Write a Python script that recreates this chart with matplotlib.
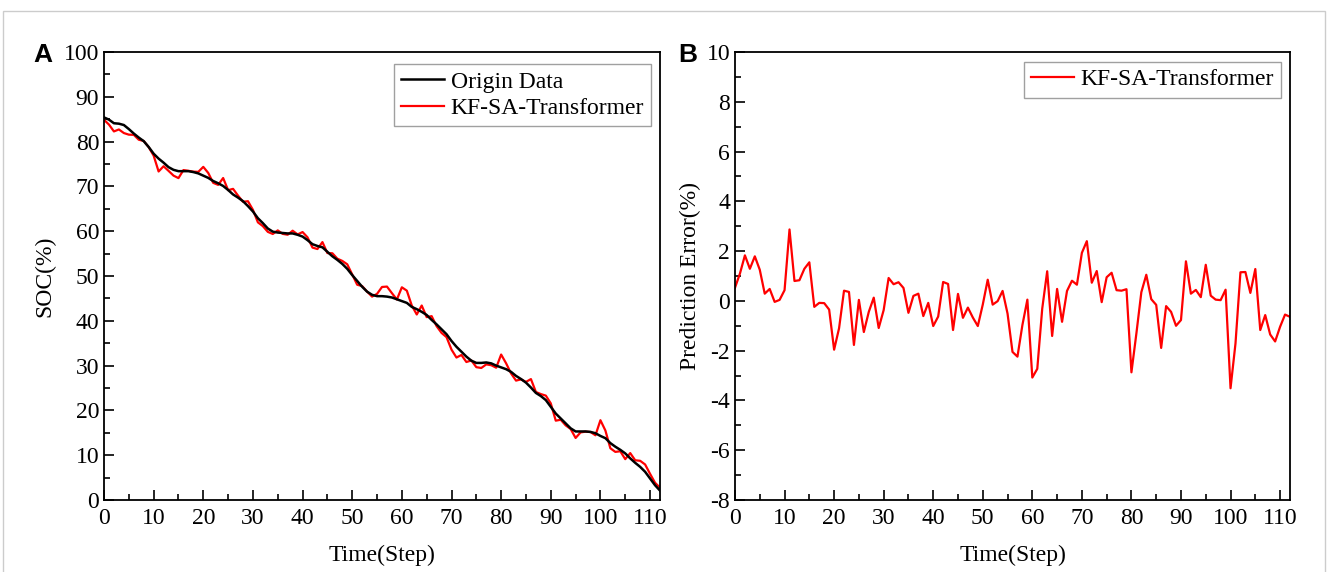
import matplotlib
matplotlib.use("Agg")
from matplotlib import pyplot as plt
from matplotlib.ticker import MultipleLocator
from matplotlib.patches import Rectangle
import numpy as np

# SOC (black curve), steps 0..112
origin = [85.4, 84.9, 84.1, 84.0, 83.7, 82.8, 81.8, 80.9, 80.1, 78.8,
          77.3, 76.2, 75.3, 74.3, 73.7, 73.4, 73.4, 73.4, 73.2, 72.9,
          72.4, 71.9, 71.2, 70.7, 70.1, 69.2, 68.2, 67.5, 66.7, 65.6,
          64.4, 62.9, 61.8, 60.6, 59.9, 59.7, 59.6, 59.5, 59.5, 59.2,
          58.8, 58.0, 57.1, 56.7, 56.4, 55.4, 54.4, 53.6, 52.7, 51.6,
          50.2, 48.9, 47.6, 46.5, 45.8, 45.5, 45.5, 45.4, 45.2, 44.8,
          44.4, 44.0, 43.1, 42.6, 42.0, 41.3, 40.2, 39.2, 38.1, 37.0,
          35.5, 34.2, 33.1, 32.0, 31.1, 30.6, 30.6, 30.7, 30.5, 30.0,
          29.6, 29.2, 28.6, 27.7, 27.0, 26.2, 25.1, 23.9, 23.2, 22.3,
          20.8, 19.3, 18.2, 17.1, 16.0, 15.3, 15.3, 15.3, 15.2, 14.9,
          14.3, 13.8, 12.7, 11.9, 11.2, 10.4, 9.3, 8.3, 7.4, 6.3,
          4.8, 3.3, 2.1]

# prediction error (origin - prediction)
error = [0.53, 1.1, 1.83, 1.29, 1.79, 1.25, 0.29, 0.48, -0.04, 0.04,
         0.43, 2.87, 0.8, 0.83, 1.29, 1.55, -0.24, -0.08, -0.09, -0.35,
         -1.96, -1.1, 0.41, 0.36, -1.77, 0.04, -1.25, -0.44, 0.13, -1.09,
         -0.37, 0.92, 0.67, 0.75, 0.52, -0.48, 0.2, 0.29, -0.61, -0.08,
         -1.01, -0.63, 0.76, 0.68, -1.17, 0.28, -0.68, -0.27, -0.67, -1.01,
         -0.15, 0.85, -0.15, -0.01, 0.4, -0.51, -2.05, -2.24, -0.97, 0.05,
         -3.08, -2.73, -0.31, 1.19, -1.41, 0.48, -0.84, 0.4, 0.81, 0.65,
         1.93, 2.4, 0.73, 1.2, -0.05, 0.95, 1.13, 0.43, 0.41, 0.47,
         -2.87, -1.31, 0.35, 1.05, 0.07, -0.16, -1.89, -0.21, -0.44, -1.0,
         -0.77, 1.59, 0.29, 0.44, 0.15, 1.45, 0.21, 0.05, 0.03, 0.45,
         -3.51, -1.71, 1.15, 1.16, 0.32, 1.28, -1.17, -0.57, -1.35, -1.63,
         -1.04, -0.55, -0.64]

steps = np.arange(len(origin))
predicted = np.array(origin) - np.array(error)

serif = "Liberation Serif"
plt.rcParams["font.family"] = serif
plt.rcParams["font.size"] = 17
plt.rcParams["axes.unicode_minus"] = False

fig = plt.figure(figsize=(13.3, 5.72), dpi=100)
# light grey frame around the figure
fig.patches.append(Rectangle((3 / 1330, -0.1), 1322 / 1330, 1.1 - 11 / 572,
                             transform=fig.transFigure, fill=False,
                             edgecolor="#cccccc", linewidth=1))

axA = fig.add_axes([104 / 1330, 1 - 500 / 572, 556 / 1330, 448 / 572])
axB = fig.add_axes([735 / 1330, 1 - 500 / 572, 555 / 1330, 448 / 572])


def style(ax):
    ax.tick_params(which="both", direction="in", top=False, right=False,
                   labelsize=17, width=1.2)
    ax.tick_params(which="major", length=7)
    ax.tick_params(which="minor", length=4)
    ax.tick_params(axis="x", pad=6)
    for s in ax.spines.values():
        s.set_linewidth(1.3)
    ax.xaxis.set_major_locator(MultipleLocator(10))
    ax.xaxis.set_minor_locator(MultipleLocator(5))
    ax.set_xlim(0, 112)
    ax.set_xlabel("Time(Step)", fontsize=17, labelpad=11)


axA.plot(steps, origin, color="black", lw=1.8, label="Origin Data", zorder=3)
axA.plot(steps, predicted, color="#ff0000", lw=1.6, label="KF-SA-Transformer", zorder=2)
style(axA)
axA.set_ylim(0, 100)
axA.yaxis.set_major_locator(MultipleLocator(10))
axA.yaxis.set_minor_locator(MultipleLocator(5))
axA.set_ylabel("SOC(%)", fontsize=17, labelpad=6)
legA = axA.legend(loc="upper right", fontsize=17, fancybox=False, edgecolor="#888888",
                  handlelength=1.8, borderpad=0.3, labelspacing=0.2, handletextpad=0.3,
                  borderaxespad=0, bbox_to_anchor=(0.984, 0.973))
legA.get_frame().set_linewidth(1.0)

axB.plot(steps, error, color="#ff0000", lw=1.6, label="KF-SA-Transformer")
style(axB)
axB.set_ylim(-8, 10)
axB.yaxis.set_major_locator(MultipleLocator(2))
axB.yaxis.set_minor_locator(MultipleLocator(1))
axB.set_ylabel("Prediction Error(%)", fontsize=17, labelpad=4)
legB = axB.legend(loc="upper right", fontsize=17, fancybox=False, edgecolor="#888888",
                  handlelength=1.8, borderpad=0.3, handletextpad=0.3,
                  borderaxespad=0, bbox_to_anchor=(0.984, 0.978))
legB.get_frame().set_linewidth(1.0)

fig.text(43 / 1330, 1 - 55 / 572, "A", family="Liberation Sans", weight="bold",
         fontsize=19, ha="center", va="center")
fig.text(688 / 1330, 1 - 55 / 572, "B", family="Liberation Sans", weight="bold",
         fontsize=19, ha="center", va="center")

fig.savefig("out.png", dpi=100)
